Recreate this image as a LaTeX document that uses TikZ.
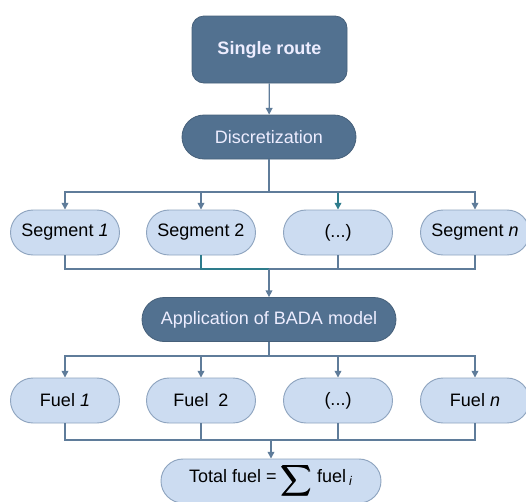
\documentclass[tikz,border=0pt]{standalone}
\usepackage{amsmath}
\usepackage{fontspec}
\usepackage{graphicx}
\setmainfont{Liberation Sans}
\usetikzlibrary{arrows.meta}
\definecolor{darkbox}{HTML}{527190}
\definecolor{lightbox}{HTML}{CCDCF1}
\definecolor{lightedge}{HTML}{8EA4BF}
\definecolor{linkcol}{HTML}{5F7C9A}
\definecolor{tealcol}{HTML}{2E7C8C}
\newcommand{\bigsumsign}{\raisebox{-0.45ex}{\scalebox{1.1}{$\pmb{\displaystyle\sum}$}}}
\begin{document}
\begin{tikzpicture}[x=0.75pt,y=-0.75pt,
  txt/.style={font=\fontsize{13.5}{16}\selectfont},
  darknode/.style={txt,draw=darkbox!85!black,line width=0.6pt,fill=darkbox,text=white!93!blue,
    minimum height=44*0.75pt,rounded corners=22*0.75pt,inner sep=0pt},
  lightnode/.style={txt,draw=lightedge,line width=0.7pt,fill=lightbox,text=black,
    minimum width=109*0.75pt,minimum height=45*0.75pt,rounded corners=22.5*0.75pt,inner sep=0pt},
  link/.style={draw=linkcol,line width=1pt},
  arr/.style={link,-{Triangle[width=5pt,length=5pt]}}]
\useasboundingbox (0,0) rectangle (526,501);

% top of the flow
\node[darknode,minimum width=155*0.75pt,minimum height=67*0.75pt,rounded corners=12*0.75pt,
  font=\fontsize{13.5}{16}\selectfont\bfseries] (route) at (269.5,49.5) {Single route};
\node[darknode,minimum width=174*0.75pt] (disc) at (269,137) {Discretization};

% segments
\node[lightnode] (s1) at (65,232.5) {Segment \textit{1}};
\node[lightnode] (s2) at (201,232.5) {Segment 2};
\node[lightnode] (s3) at (338,232.5) {(...)};
\node[lightnode] (s4) at (475,232.5) {Segment \textit{n}};

\node[darknode,minimum width=254*0.75pt] (app) at (269,319.5) {Application of BADA model};

% fuel per segment
\node[lightnode] (f1) at (65,400.5) {Fuel \textit{1}};
\node[lightnode] (f2) at (201,400.5) {Fuel\ \ 2};
\node[lightnode] (f3) at (338,400.5) {(...)};
\node[lightnode] (f4) at (475,400.5) {Fuel \textit{n}};

\node[lightnode,minimum width=220*0.75pt,minimum height=44*0.75pt,rounded corners=22*0.75pt]
  (tot) at (271,481) {Total fuel =\ \bigsumsign\ fuel\,\textsubscript{\textit{i}}};

% junction points
\coordinate (busA) at (269,192);
\coordinate (colA) at (269,269);
\coordinate (busB) at (269,356);
\coordinate (colB) at (271,440);

% route -> discretization
\draw[arr] (route) -- (disc);

% discretization fans out to the segments
\draw[link] (disc.south) -- (busA);
\draw[arr] (busA) -| (s1.north);
\draw[arr] (busA) -| (s2.north);
\draw[arr,draw=tealcol] (busA) -| (s3.north);
\draw[arr] (busA) -| (s4.north);

% segments gather into the BADA model
\draw[link] (s1.south) |- (colA);
\draw[link,draw=tealcol] (s2.south) |- (colA);
\draw[link] (s3.south) |- (colA);
\draw[link] (s4.south) |- (colA);
\draw[arr] (colA) -- (app.north);

% BADA model fans out to fuel values
\draw[link] (app.south) -- (busB);
\draw[arr] (busB) -| (f1.north);
\draw[arr] (busB) -| (f2.north);
\draw[arr] (busB) -| (f3.north);
\draw[arr] (busB) -| (f4.north);

% fuel values summed
\draw[link] (f1.south) |- (colB);
\draw[link] (f2.south) |- (colB);
\draw[link] (f3.south) |- (colB);
\draw[link] (f4.south) |- (colB);
\draw[arr] (colB) -- (tot.north);
\end{tikzpicture}
\end{document}
